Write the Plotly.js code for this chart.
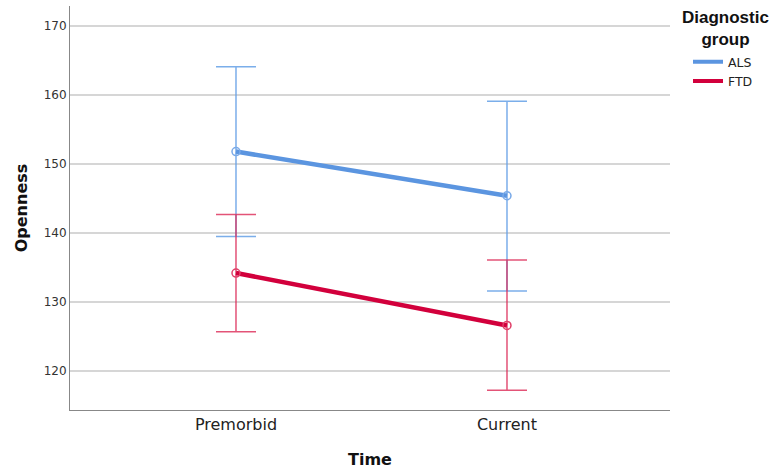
<!DOCTYPE html>
<html><head><meta charset="utf-8">
<script src="https://cdn.plot.ly/plotly-3.0.1.min.js"></script>
<style>html,body{margin:0;padding:0;background:#fff}</style>
</head><body><div id="chart" style="width:771px;height:470px"></div>
<script>
const categories = ["Premorbid", "Current"];
const groups = ["ALS", "FTD"];
const alsMean = [151.8, 145.4];
const alsUpper = [164.1, 159.1];
const alsLower = [139.5, 131.6];
const ftdMean = [134.2, 126.6];
const ftdUpper = [142.7, 136.1];
const ftdLower = [125.7, 117.2];
const legendTitle = "Diagnostic<br>group";

function diff(a, b) { return a.map((v, i) => Math.abs(v - b[i])); }

const colors = {ALS: "#5b95e0", FTD: "#d2003c"};

const traces = [
  {
    name: groups[0], x: categories, y: alsMean, type: "scatter", mode: "lines+markers", showlegend: false,
    line: {color: colors.ALS, width: 4.5},
    marker: {symbol: "circle-open", size: 8, color: "#7aaae8", line: {width: 1.5}},
    error_y: {type: "data", symmetric: false, array: diff(alsUpper, alsMean), arrayminus: diff(alsMean, alsLower),
      color: "rgba(100,160,230,0.85)", thickness: 1.5, width: 20}
  },
  {
    name: groups[1], x: categories, y: ftdMean, type: "scatter", mode: "lines+markers", showlegend: false,
    line: {color: colors.FTD, width: 4.5},
    marker: {symbol: "circle-open", size: 8, color: "#e0426a", line: {width: 1.5}},
    error_y: {type: "data", symmetric: false, array: diff(ftdUpper, ftdMean), arrayminus: diff(ftdMean, ftdLower),
      color: "rgba(220,40,85,0.8)", thickness: 1.5, width: 20}
  },
  {name: groups[0], x: [null], y: [null], type: "scatter", mode: "lines", line: {color: colors.ALS, width: 4}},
  {name: groups[1], x: [null], y: [null], type: "scatter", mode: "lines", line: {color: colors.FTD, width: 4}}
];

const layout = {
  width: 771, height: 470,
  margin: {l: 70, r: 101, t: 6, b: 60, autoexpand: false},
  paper_bgcolor: "#fff", plot_bgcolor: "#fff",
  font: {family: "DejaVu Sans, sans-serif", color: "#222"},
  showlegend: true,
  legend: {
    x: 1.03, xanchor: "left", y: 0.898, yanchor: "top",
    font: {size: 12.5, family: "DejaVu Sans, sans-serif", color: "#222"},
    itemwidth: 30, tracegroupgap: 0
  },
  annotations: [{
    text: "<b>" + legendTitle + "</b>", xref: "paper", yref: "paper",
    x: 1.092, y: 1.0, xanchor: "center", yanchor: "top", showarrow: false,
    font: {size: 17, family: "Liberation Sans, Arial, sans-serif", color: "#111"}
  }],
  xaxis: {
    type: "category", range: [-0.6125, 1.6015],
    showgrid: false, showline: true, linecolor: "#888", linewidth: 1, ticks: "",
    tickfont: {size: 16, color: "#222"},
    title: {text: "<b>Time</b>", font: {size: 16, color: "#111"}, standoff: 20},
    zeroline: false
  },
  yaxis: {
    range: [114.35, 172.9], tickvals: [120, 130, 140, 150, 160, 170],
    showgrid: true, gridcolor: "#d6d6d6", gridwidth: 1.2,
    showline: true, linecolor: "#888", linewidth: 1, ticks: "",
    tickfont: {size: 12, color: "#333"},
    title: {text: "<b>Openness</b>", font: {size: 16, color: "#111"}, standoff: 12},
    zeroline: false
  }
};

Plotly.newPlot("chart", traces, layout, {displayModeBar: false, staticPlot: true});
</script></body></html>
